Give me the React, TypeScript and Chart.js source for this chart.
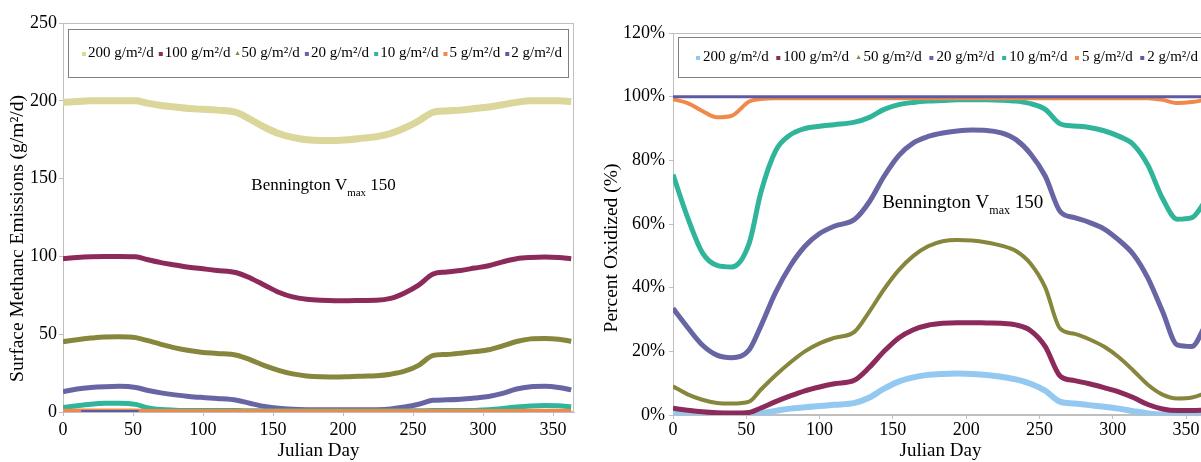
import React, { useEffect, useRef } from 'react';
import { Chart, registerables } from 'chart.js';

Chart.register(...registerables);
Chart.defaults.font.family = '"Liberation Serif", "Times New Roman", serif';
Chart.defaults.color = '#000';

// ---------- data ----------
const DAYS = [0, 10, 20, 30, 40, 52, 60, 70, 80, 90, 100, 110, 124, 134, 144, 154, 164, 174, 184, 194, 204, 214, 224, 234, 244, 254, 264, 274, 284, 294, 304, 314, 324, 334, 344, 354, 363];

const SERIES_LABELS = ['200 g/m²/d', '100 g/m²/d', '50 g/m²/d', '20 g/m²/d', '10 g/m²/d', '5 g/m²/d', '2 g/m²/d'];

const X_TICKS = [0, 50, 100, 150, 200, 250, 300, 350];
const EMIT_TICKS = [0, 50, 100, 150, 200, 250];
const OXID_TICKS = [0, 20, 40, 60, 80, 100, 120];

// Surface methane emissions (g/m²/d)
const EMIT_200 = [199, 199.5, 200, 200, 200, 200, 198.5, 197, 196, 195, 194.5, 194, 192.5, 188, 183, 179, 176.5, 175, 174.5, 174.5, 175, 176, 177, 179, 182.5, 187, 192.5, 193.5, 194, 195, 196, 197.5, 199, 200, 200, 200, 199.5];
const EMIT_100 = [98.5, 99.3, 99.8, 100, 100, 99.8, 98, 96, 94.5, 93, 92, 91, 89.5, 86, 81.5, 77, 74, 72.5, 71.8, 71.5, 71.5, 71.7, 71.8, 73, 76.5, 81.5, 88.5, 90, 91, 92.5, 94, 96.5, 98.5, 99.3, 99.6, 99.3, 98.5];
const EMIT_50 = [45.2, 46.5, 47.5, 48.2, 48.3, 47.8, 46, 43.5, 41.2, 39.5, 38.3, 37.6, 36.5, 33.5, 29.8, 26.8, 24.5, 23.2, 22.6, 22.5, 22.7, 23, 23.3, 24.3, 26.2, 30, 36.2, 37, 37.8, 38.8, 40, 42.5, 45.3, 47, 47.3, 46.8, 45.5];
const EMIT_20 = [13, 14.8, 15.8, 16.3, 16.5, 15.8, 14, 12.3, 11, 10, 9.3, 8.7, 7.6, 5.5, 3.6, 2.4, 1.8, 1.5, 1.4, 1.4, 1.4, 1.4, 1.5, 2, 3.2, 5, 7.5, 7.8, 8.2, 9, 10, 12, 14.8, 16.2, 16.5, 15.8, 14.2];
const EMIT_10 = [2.8, 4, 5, 5.6, 5.7, 4.9, 2.8, 1.6, 1.2, 1, 1, 0.9, 0.9, 0.8, 0.8, 0.8, 0.8, 0.8, 0.8, 0.8, 0.8, 0.8, 0.8, 0.8, 0.8, 0.8, 0.9, 0.9, 0.9, 1, 1.4, 2.2, 3.2, 3.9, 4.2, 4, 3.3];
const EMIT_5 = [0.8, 0.9, 1, 1, 1, 0.9, 0.7, 0.6, 0.6, 0.6, 0.6, 0.6, 0.6, 0.6, 0.6, 0.6, 0.6, 0.6, 0.6, 0.6, 0.6, 0.6, 0.6, 0.6, 0.6, 0.6, 0.6, 0.6, 0.6, 0.6, 0.6, 0.6, 0.7, 0.8, 0.8, 0.8, 0.7];
const EMIT_2_DAYS = [13, 30, 54];
const EMIT_2 = [0, 0, 0];

// Percent oxidized (%)
const OXID_200 = [0.6, 0.3, 0.1, 0, 0, 0, 0.6, 1.3, 2, 2.4, 2.8, 3.2, 3.8, 5.5, 8.3, 10.5, 11.8, 12.6, 12.9, 13, 12.9, 12.6, 12, 11.2, 9.8, 7.6, 4.2, 3.6, 3.1, 2.6, 2, 1.2, 0.5, 0.1, 0, 0, 0];
const OXID_100 = [2.1, 1.5, 1, 0.7, 0.6, 0.8, 2.2, 4.2, 6, 7.6, 8.8, 9.8, 11, 15, 20, 24.2, 26.8, 28.2, 28.8, 29, 29, 28.9, 28.8, 28.3, 26.5, 21.5, 12.3, 10.8, 9.8, 8.6, 7.3, 5.5, 3.3, 1.9, 1.4, 1.4, 1.6];
const OXID_50 = [9, 6.5, 4.8, 3.8, 3.6, 4.2, 8, 12.5, 16.5, 20, 22.5, 24.2, 26.2, 32.5, 39.5, 45.5, 50, 53, 54.6, 55, 54.8, 54.2, 53.2, 51.5, 47.5, 40, 27.2, 25.5, 23.8, 21.5, 18.2, 14, 9.5, 6.4, 5.2, 5.5, 6.8];
const OXID_20 = [33.5, 27.5, 22, 18.8, 18, 20.5, 28, 38.5, 46.8, 53, 57, 59.3, 61.5, 67, 75, 81.5, 85.5, 87.5, 88.6, 89.2, 89.5, 89.4, 88.6, 86.5, 82, 75, 64, 62, 60.5, 58.5, 55, 50.5, 43, 32.5, 22, 21.5, 28];
const OXID_10 = [75.5, 62, 51, 47, 46.5, 54, 70, 83, 88, 90, 90.7, 91.2, 92, 93.5, 96, 97.5, 98.2, 98.6, 98.8, 99, 99, 99, 98.9, 98.6, 97.8, 96, 91.5, 90.8, 90.3, 89.3, 87.6, 85, 78.5, 68, 61.5, 62, 67];
const OXID_5 = [99.2, 98, 95.5, 93.5, 94, 98.5, 99.3, 99.5, 99.5, 99.5, 99.5, 99.5, 99.5, 99.5, 99.5, 99.5, 99.5, 99.5, 99.5, 99.5, 99.5, 99.5, 99.5, 99.5, 99.5, 99.5, 99.5, 99.5, 99.5, 99.5, 99.5, 99.5, 99.5, 99, 98, 98.3, 99];
const OXID_2 = [100, 100, 100, 100, 100, 100, 100, 100, 100, 100, 100, 100, 100, 100, 100, 100, 100, 100, 100, 100, 100, 100, 100, 100, 100, 100, 100, 100, 100, 100, 100, 100, 100, 100, 100, 100, 100];

// ---------- styles ----------
const EMIT_COLORS = ['#DBD69A', '#8C2A5B', '#86863D', '#6865A5', '#30B59B', '#F0894A', '#5D5CA2'];
const OXID_COLORS = ['#93C9F1', '#8C2A5B', '#86863D', '#6865A5', '#30B59B', '#F0894A', '#5D5CA2'];
const EMIT_WIDTHS = [7, 5, 5, 5, 5, 4, 4];
const OXID_WIDTHS = [6, 5, 4, 5, 5, 4, 3];
const LEGEND_MARKERS = ['square', 'square', 'triangle', 'square', 'square', 'square', 'square'];
const AXIS_GRAY = '#BFBFBF';
const FONT = '"Liberation Serif", "Times New Roman", serif';

const toPoints = (days: number[], vals: (number | null)[]) => days.map((d, i) => ({ x: d, y: vals[i] }));

// ---------- plugins ----------
const framePlugin = {
  id: 'plotFrame',
  beforeDatasetsDraw(chart: any) {
    const { ctx, chartArea: a } = chart;
    ctx.save();
    ctx.strokeStyle = AXIS_GRAY;
    ctx.lineWidth = 1;
    ctx.strokeRect(Math.round(a.left) + 0.5, Math.round(a.top) + 0.5, Math.round(a.right - a.left) - 1, Math.round(a.bottom - a.top) - 1);
    ctx.restore();
  },
};

const yTitlePlugin = {
  id: 'yTitle',
  afterDraw(chart: any, _args: any, opts: any) {
    const { ctx, chartArea: a } = chart;
    ctx.save();
    ctx.translate(opts.x, (a.top + a.bottom) / 2 + opts.dy);
    ctx.rotate(-Math.PI / 2);
    ctx.font = `${opts.size}px ${FONT}`;
    ctx.fillStyle = '#000';
    ctx.textAlign = 'center';
    ctx.textBaseline = 'middle';
    ctx.fillText(opts.text, 0, 0);
    ctx.restore();
  },
};

const boxLegendPlugin = {
  id: 'boxLegend',
  afterDatasetsDraw(chart: any, _args: any, opts: any) {
    const { ctx, chartArea: a } = chart;
    const left = Math.round(a.left + opts.insetLeft);
    const top = Math.round(a.top + opts.insetTop);
    const right = Math.round(a.right - opts.insetRight);
    const bottom = top + opts.height;
    ctx.save();
    ctx.fillStyle = '#fff';
    ctx.fillRect(left, top, right - left, bottom - top);
    ctx.strokeStyle = '#808080';
    ctx.lineWidth = 1;
    ctx.strokeRect(left + 0.5, top + 0.5, right - left, bottom - top);
    ctx.font = `${opts.fontSize}px ${FONT}`;
    ctx.textBaseline = 'middle';
    ctx.textAlign = 'left';
    const ds = chart.data.datasets;
    const ms = opts.markerSize;
    const mg = opts.markerGap;
    const widths = ds.map((d: any) => ms + mg + ctx.measureText(d.label).width);
    const total = widths.reduce((s: number, w: number) => s + w, 0);
    const x0 = left + opts.padLeft;
    const x1 = right - opts.padRight;
    const gap = (x1 - x0 - total) / (ds.length - 1);
    const cy = (top + bottom) / 2 + opts.textDy;
    let x = x0;
    ds.forEach((d: any, i: number) => {
      ctx.fillStyle = d.borderColor;
      if (LEGEND_MARKERS[i] === 'triangle') {
        ctx.beginPath();
        ctx.moveTo(x + ms / 2, cy - ms / 2);
        ctx.lineTo(x + ms, cy + ms / 2);
        ctx.lineTo(x, cy + ms / 2);
        ctx.closePath();
        ctx.fill();
      } else {
        ctx.fillRect(x, cy - ms / 2 + 1, ms, ms);
      }
      ctx.fillStyle = '#000';
      ctx.fillText(d.label, x + ms + mg, cy);
      x += widths[i] + gap;
    });
    ctx.restore();
  },
};

const notePlugin = {
  id: 'vmaxNote',
  afterDatasetsDraw(chart: any, _args: any, opts: any) {
    const { ctx } = chart;
    const x = chart.scales.x.getPixelForValue(opts.day);
    const y = chart.scales.y.getPixelForValue(opts.value);
    ctx.save();
    ctx.fillStyle = '#000';
    ctx.textBaseline = 'middle';
    ctx.textAlign = 'left';
    ctx.font = `${opts.size}px ${FONT}`;
    ctx.fillText(opts.main, x, y);
    let w = ctx.measureText(opts.main).width;
    ctx.font = `${opts.subSize}px ${FONT}`;
    ctx.fillText(opts.sub, x + w, y + opts.size * 0.42);
    w += ctx.measureText(opts.sub).width;
    ctx.font = `${opts.size}px ${FONT}`;
    ctx.fillText(opts.tail, x + w, y);
    ctx.restore();
  },
};

// ---------- chart builders ----------
function buildDatasets(series: { days: number[]; vals: (number | null)[] }[], colors: string[], widths: number[]) {
  return series.map((s, i) => ({
    label: SERIES_LABELS[i],
    data: toPoints(s.days, s.vals),
    borderColor: colors[i],
    backgroundColor: colors[i],
    borderWidth: widths[i],
    pointRadius: 0,
    cubicInterpolationMode: 'monotone',
    fill: false,
    spanGaps: false,
    order: -i,
  }));
}

function makeConfig(p: any) {
  return {
    type: 'line',
    data: { datasets: p.datasets },
    plugins: [framePlugin, boxLegendPlugin, notePlugin, yTitlePlugin],
    options: {
      responsive: false,
      animation: false,
      events: [],
      layout: { padding: p.padding },
      plugins: {
        legend: { display: false },
        tooltip: { enabled: false },
        boxLegend: p.legend,
        vmaxNote: p.note,
        yTitle: p.yTitle,
      },
      scales: {
        x: {
          type: 'linear',
          min: 0,
          max: 365,
          afterBuildTicks: (scale: any) => {
            scale.ticks = X_TICKS.map((v) => ({ value: v }));
          },
          afterFit: (scale: any) => {
            scale.height = p.xHeight;
          },
          ticks: { font: { size: 18 }, padding: p.xTickPad, maxRotation: 0, autoSkip: false },
          grid: { drawOnChartArea: false, drawTicks: true, tickLength: 4, color: AXIS_GRAY },
          border: { display: true, color: AXIS_GRAY },
          title: { display: true, text: 'Julian Day', font: { size: 19 }, padding: { top: 0, bottom: 0 } },
        },
        y: {
          type: 'linear',
          min: p.yMin,
          max: p.yMax,
          afterBuildTicks: (scale: any) => {
            scale.ticks = p.yTicks.map((v: number) => ({ value: v }));
          },
          afterFit: (scale: any) => {
            scale.width = p.yWidth;
          },
          ticks: { font: { size: 18 }, padding: p.yTickPad, callback: p.yFormat, autoSkip: false },
          grid: { drawOnChartArea: false, drawTicks: true, tickLength: 4, color: AXIS_GRAY },
          border: { display: true, color: AXIS_GRAY },
          title: { display: false },
        },
      },
    },
  };
}

function ChartCanvas({ config, width, height, left }: any) {
  const ref = useRef<HTMLCanvasElement>(null);
  useEffect(() => {
    if (!ref.current) return;
    const chart = new Chart(ref.current, config);
    return () => chart.destroy();
  }, [config]);
  return <canvas ref={ref} width={width} height={height} style={{ position: 'absolute', left, top: 0, width, height }} />;
}

const emitConfig = makeConfig({
  datasets: buildDatasets(
    [
      { days: DAYS, vals: EMIT_200 },
      { days: DAYS, vals: EMIT_100 },
      { days: DAYS, vals: EMIT_50 },
      { days: DAYS, vals: EMIT_20 },
      { days: DAYS, vals: EMIT_10 },
      { days: DAYS, vals: EMIT_5 },
      { days: EMIT_2_DAYS, vals: EMIT_2 },
    ],
    EMIT_COLORS,
    EMIT_WIDTHS
  ),
  padding: { left: 0, top: 23, right: 26, bottom: 0 },
  xHeight: 50,
  yWidth: 63,
  xTickPad: 3,
  yTickPad: 2,
  yMin: 0,
  yMax: 250,
  yTicks: EMIT_TICKS,
  yFormat: (v: number) => String(v),
  yTitle: { text: 'Surface Methanc Emissions (g/m²/d)', x: 18, dy: 21, size: 19.5 },
  legend: { insetLeft: 5, insetTop: 6, insetRight: 6, height: 48, padLeft: 14, padRight: 6, fontSize: 15, markerSize: 4, markerGap: 2, textDy: 0 },
  note: { day: 134.5, value: 145.5, size: 17, subSize: 11, main: 'Bennington V', sub: 'max', tail: ' 150' },
});

const oxidConfig = makeConfig({
  datasets: buildDatasets(
    [
      { days: DAYS, vals: OXID_200 },
      { days: DAYS, vals: OXID_100 },
      { days: DAYS, vals: OXID_50 },
      { days: DAYS, vals: OXID_20 },
      { days: DAYS, vals: OXID_10 },
      { days: DAYS, vals: OXID_5 },
      { days: DAYS, vals: OXID_2 },
    ],
    OXID_COLORS,
    OXID_WIDTHS
  ),
  padding: { left: 0, top: 33, right: 32, bottom: 0 },
  xHeight: 47,
  yWidth: 73,
  xTickPad: 0,
  yTickPad: 4,
  yMin: 0,
  yMax: 120,
  yTicks: OXID_TICKS,
  yFormat: (v: number) => `${v}%`,
  yTitle: { text: 'Percent Oxidized (%)', x: 12, dy: 24, size: 19.5 },
  legend: { insetLeft: 5, insetTop: 4, insetRight: 4, height: 40, padLeft: 18, padRight: 6, fontSize: 15, markerSize: 4, markerGap: 3, textDy: 0 },
  note: { day: 142.7, value: 66.6, size: 19, subSize: 12, main: 'Bennington V', sub: 'max', tail: ' 150' },
});

export default function App() {
  return (
    <div style={{ position: 'absolute', left: 0, top: 0, width: 1201, height: 462, overflow: 'hidden', background: '#fff' }}>
      <ChartCanvas config={emitConfig} width={600} height={462} left={0} />
      <ChartCanvas config={oxidConfig} width={640} height={462} left={600} />
    </div>
  );
}
